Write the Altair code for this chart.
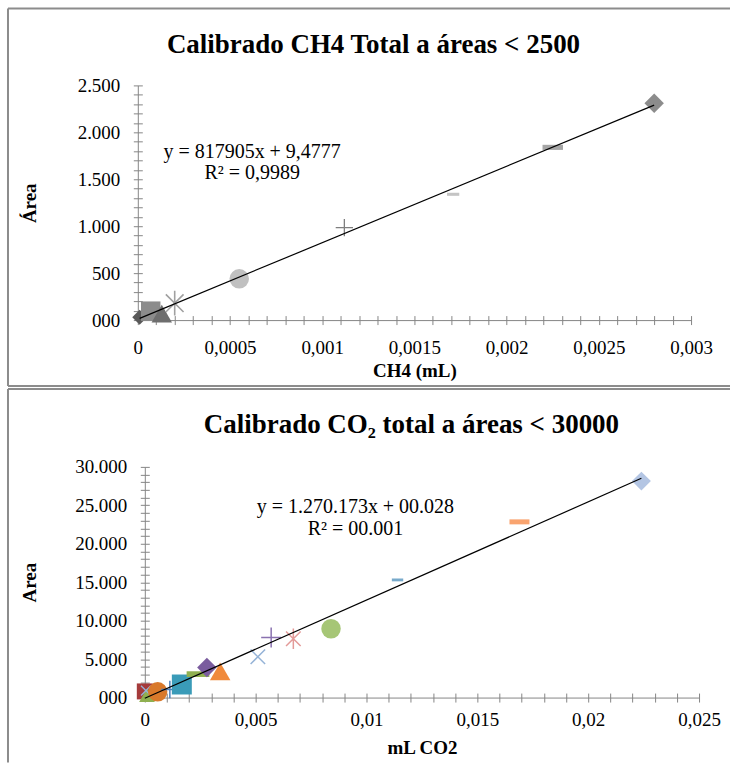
import altair as alt
import pandas as pd

FONT = "Liberation Serif"

# custom marker paths (unit box -1..1)
DASH = "M-1,-0.25H1V0.25H-1Z"
PLUS = "M-1,0H1M0,-1V1"
XMARK = "M-0.8,-0.8L0.8,0.8M-0.8,0.8L0.8,-0.8"
ASTER = "M-0.75,-0.75L0.75,0.75M-0.75,0.75L0.75,-0.75M0,-1.05V1.05"

# ---------------- CH4 calibration data ----------------
ch4_x = [0.00001, 0.00007, 0.00013, 0.0002, 0.00055, 0.00112, 0.00171, 0.00225, 0.0028]
ch4_y = [30, 95, 70, 180, 440, 985, 1340, 1840, 2310]
ch4_shape = ["diamond", "square", "triangle-up", ASTER, "circle", PLUS, DASH, DASH, "diamond"]
ch4_fill = ["#595959", "#8c8c8c", "#6e6e6e", "transparent", "#c0c0c0", "transparent", "#c4c4c4", "#a6a6a6", "#8c8c8c"]
ch4_stroke = ["#595959", "#8c8c8c", "#6e6e6e", "#a0a0a0", "#c0c0c0", "#7f7f7f", "#c4c4c4", "#a6a6a6", "#8c8c8c"]
ch4_sw = [0, 0, 0, 1.6, 0, 1.3, 0, 0, 0]
ch4_size = [220, 380, 420, 560, 380, 300, 150, 420, 380]

# ---------------- CO2 calibration data ----------------
co2_x = [0.0, 0.0001, 0.00005, 0.00058, 0.00113, 0.00167, 0.0024, 0.0028, 0.0034,
         0.0051, 0.0057, 0.0067, 0.0084, 0.0114, 0.0169, 0.0224]
co2_y = [800, 300, 900, 750, 1050, 1700, 3050, 3900, 3400,
         5300, 7800, 7650, 8950, 15300, 22850, 28150]
co2_shape = ["square", "triangle-up", XMARK, "circle", PLUS, "square", DASH, "diamond", "triangle-up",
             XMARK, PLUS, ASTER, "circle", DASH, DASH, "diamond"]
co2_fill = ["#a53b3b", "#8fb050", "transparent", "#d9792b", "transparent", "#3a9bb8", "#8fb050", "#7a5c9e", "#f08a3c",
            "transparent", "transparent", "transparent", "#a6c676", "#78aacb", "#f9a46f", "#b3c5e3"]
co2_stroke = ["#a53b3b", "#8fb050", "#95b3d7", "#d9792b", "#4f81bd", "#3a9bb8", "#8fb050", "#7a5c9e", "#f08a3c",
              "#95b3d7", "#8a72b0", "#e39a98", "#a6c676", "#78aacb", "#f9a46f", "#b3c5e3"]
co2_sw = [0, 0, 1.3, 0, 1.5, 0, 0, 0, 0, 1.5, 1.5, 1.5, 0, 0, 0, 0]
co2_size = [256, 250, 150, 380, 300, 400, 520, 380, 420, 330, 400, 380, 380, 130, 400, 360]

# equation annotations
ch4_eq = ["y = 817905x + 9,4777", "R² = 0,9989"]
ch4_eq_x = [0.00062, 0.00062]
ch4_eq_y = [1790, 1565]
co2_eq = ["y = 1.270.173x + 00.028", "R² = 00.001"]
co2_eq_x = [0.0095, 0.0095]
co2_eq_y = [24750, 21950]

# axis ticks
ch4_xticks = [0, 0.0005, 0.001, 0.0015, 0.002, 0.0025, 0.003]
ch4_xminor = [round(i * 0.0001, 4) for i in range(31)]
ch4_yticks = [0, 500, 1000, 1500, 2000, 2500]
ch4_yminor = [i * 100 for i in range(26)]
co2_xticks = [0, 0.005, 0.01, 0.015, 0.02, 0.025]
co2_xminor = [round(i * 0.001, 3) for i in range(26)]
co2_yticks = [0, 5000, 10000, 15000, 20000, 25000, 30000]
co2_yminor = [i * 1000 for i in range(31)]

XLAB = "replace(format(datum.value, '~g'), '.', ',')"
YLAB = "datum.value == 0 ? '000' : replace(format(datum.value, ','), ',', '.')"

LBL = dict(labelFont=FONT, labelFontSize=19, labelColor="black")
TTL = dict(titleFont=FONT, titleFontSize=19, titleFontWeight="bold", titleColor="black")


def panel(xs, ys, shapes, fills, strokes, sws, sizes,
          eq_t, eq_x, eq_y,
          xdom, ydom, xticks, xminor, yticks, yminor,
          xtitle, ytitle, ytitle_x, title, title_pos, w, h, frame, xpad):
    df = pd.DataFrame({"x": xs, "y": ys, "shape": shapes, "fill": fills,
                       "stroke": strokes, "sw": sws, "size": sizes})
    xsc = alt.Scale(domain=xdom, nice=False, zero=False)
    ysc = alt.Scale(domain=ydom, nice=False, zero=False)

    main_x = alt.Axis(values=xticks, labelExpr=XLAB, ticks=False, grid=False,
                      labelPadding=xpad, labelFlush=False, labelOverlap=False,
                      title=xtitle, titleY=50, titleBaseline="middle", orient="bottom",
                      **LBL, **TTL)
    main_y = alt.Axis(values=yticks, labelExpr=YLAB, ticks=False, grid=False,
                      labelPadding=18, labelOverlap=False,
                      title=ytitle, titleX=ytitle_x, titleY=h / 2, titleAngle=270,
                      titleBaseline="middle", titleAlign="center", orient="left",
                      **LBL, **TTL)
    minor_x = alt.Axis(values=xminor, labels=False, domain=False, grid=False, ticks=True,
                       tickSize=9, offset=-4.5, title=None, orient="bottom")
    minor_y = alt.Axis(values=yminor, labels=False, domain=False, grid=False, ticks=True,
                       tickSize=9, offset=-4.5, title=None, orient="left")

    pts = alt.Chart(df).mark_point(opacity=1, filled=False).encode(
        x=alt.X("x:Q", scale=xsc, axis=main_x),
        y=alt.Y("y:Q", scale=ysc, axis=main_y),
        shape=alt.Shape("shape:N", scale=None),
        fill=alt.Fill("fill:N", scale=None),
        stroke=alt.Stroke("stroke:N", scale=None),
        strokeWidth=alt.StrokeWidth("sw:Q", scale=None),
        size=alt.Size("size:Q", scale=None),
    )
    line = alt.Chart(df).transform_regression("x", "y").mark_line(
        color="black", strokeWidth=1.2
    ).encode(
        x=alt.X("x:Q", scale=xsc, axis=minor_x),
        y=alt.Y("y:Q", scale=ysc, axis=minor_y),
    )
    eq_df = pd.DataFrame({"t": eq_t, "x": eq_x, "y": eq_y})
    eq = alt.Chart(eq_df).mark_text(font=FONT, fontSize=20, color="black", align="center",
                                     baseline="middle").encode(
        x=alt.X("x:Q", scale=xsc, axis=None),
        y=alt.Y("y:Q", scale=ysc, axis=None),
        text="t:N",
    )
    ttl = alt.Chart(pd.DataFrame({"t": [title]})).mark_text(
        font=FONT, fontSize=27, fontWeight="bold", color="black",
        align="center", baseline="middle"
    ).encode(x=alt.value(title_pos[0]), y=alt.value(title_pos[1]), text="t:N")

    one = pd.DataFrame({"k": [0]})
    fx, fy1, fy2, fx2, horiz = frame
    layers = [pts, line, eq, ttl]
    layers.append(alt.Chart(one).mark_rule(color="#8c8c8c", strokeWidth=2).encode(
        x=alt.value(fx), y=alt.value(fy1), y2=alt.value(fy2)))
    for hy in horiz:
        layers.append(alt.Chart(one).mark_rule(color="#8c8c8c", strokeWidth=2).encode(
            x=alt.value(fx), x2=alt.value(fx2), y=alt.value(hy)))
    return alt.layer(*layers).resolve_axis(x="independent", y="independent").properties(
        width=w, height=h)


top = panel(ch4_x, ch4_y, ch4_shape, ch4_fill, ch4_stroke, ch4_sw, ch4_size,
            ch4_eq, ch4_eq_x, ch4_eq_y,
            [0, 0.003], [0, 2500], ch4_xticks, ch4_xminor, ch4_yticks, ch4_yminor,
            "CH4 (mL)", "Área", -108, "Calibrado  CH4 Total a áreas < 2500", (236, -40),
            554, 235, (-130, -77, 301, 593, [-77, 301]), 18)

bottom = panel(co2_x, co2_y, co2_shape, co2_fill, co2_stroke, co2_sw, co2_size,
               co2_eq, co2_eq_x, co2_eq_y,
               [0, 0.025], [0, 30000], co2_xticks, co2_xminor, co2_yticks, co2_yminor,
               "mL CO2", "Area", -115, "Calibrado  CO₂ total a áreas < 30000", (267, -42),
               555, 231, (-137, -78, 296, 586, [-78]), 13)

# invisible 7px spacer so the lower plot starts slightly further right
spacer = alt.Chart(pd.DataFrame({"k": [0]})).mark_point(opacity=0).encode(
    x=alt.value(0), y=alt.value(0)).properties(width=7, height=231)

bottom_row = alt.hconcat(spacer, bottom, spacing=0, bounds="flush")

chart = alt.vconcat(top, bottom_row, spacing=147, bounds="flush").properties(
    padding={"left": 7, "top": 7, "right": 0, "bottom": 0},
    background="white",
).configure_view(stroke=None).configure_axis(
    labelFont=FONT, labelFontSize=19, labelColor="black",
    titleFont=FONT, titleFontSize=19, titleFontWeight="bold", titleColor="black",
    domainColor="#868686", tickColor="#868686", domainWidth=1, tickWidth=1,
)

chart.save("out.html", embed_options={"renderer": "svg", "actions": False})
